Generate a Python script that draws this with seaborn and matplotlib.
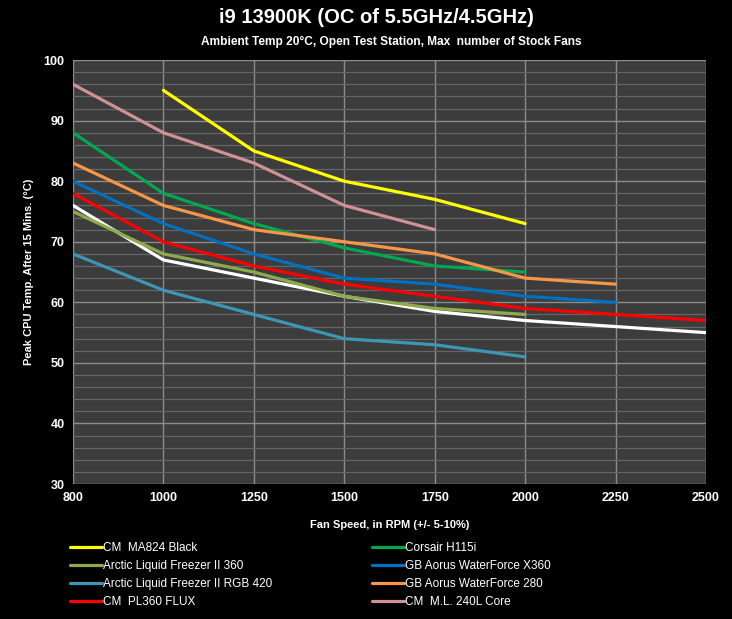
import matplotlib
matplotlib.use("Agg")
import matplotlib.pyplot as plt
import seaborn as sns
import pandas as pd
from matplotlib.ticker import MultipleLocator

# Fan speed categories (evenly spaced on the chart)
rpm_levels = [800, 1000, 1250, 1500, 1750, 2000, 2250, 2500]

# Peak CPU temps per cooler (None = not tested)
ma824_black = [None, 95, 85, 80, 77, 73, None, None]
alf2_360 = [75, 68, 65, 61, 59, 58, None, None]
alf2_rgb_420 = [68, 62, 58, 54, 53, 51, None, None]
pl360_flux = [78, 70, 66, 63, 61, 59, 58, 57]
corsair_h115i = [88, 78, 73, 69, 66, 65, None, None]
aorus_x360 = [80, 73, 68, 64, 63, 61, 60, None]
aorus_280 = [83, 76, 72, 70, 68, 64, 63, None]
ml240l_core = [96, 88, 83, 76, 72, None, None, None]
unlabeled_white = [76, 67, 64, 61, 58.5, 57, 56, 55]

series = [
    ("CM  MA824 Black", ma824_black, "#FFFF00"),
    ("Arctic Liquid Freezer II 360", alf2_360, "#8FAA4A"),
    ("Arctic Liquid Freezer II RGB 420", alf2_rgb_420, "#3B97B5"),
    ("CM  PL360 FLUX", pl360_flux, "#FF0000"),
    ("Corsair H115i", corsair_h115i, "#00A850"),
    ("GB Aorus WaterForce X360", aorus_x360, "#0070C0"),
    ("GB Aorus WaterForce 280", aorus_280, "#F79646"),
    ("CM  M.L. 240L Core", ml240l_core, "#D09292"),
]

sns.set_style("dark")
plt.rcParams['font.family'] = ['Liberation Sans', 'DejaVu Sans']

fig = plt.figure(figsize=(7.32, 6.19), dpi=100, facecolor="black")
ax = fig.add_axes([0.0997, 0.218, 0.8648, 0.685])
ax.set_facecolor("#3C3C3C")

# Unlabeled white series drawn first
white_df = pd.DataFrame({"x": range(len(rpm_levels)), "temp": unlabeled_white}).dropna()
sns.lineplot(data=white_df, x="x", y="temp", color="white", linewidth=2.3, ax=ax, legend=False)

for name, vals, color in series:
    df = pd.DataFrame({"x": range(len(rpm_levels)), "temp": vals}).dropna()
    sns.lineplot(data=df, x="x", y="temp", color=color, linewidth=2.3, ax=ax, label=name)

ax.set_xlim(0, len(rpm_levels) - 1)
ax.set_ylim(30, 100)
ax.set_xticks(range(len(rpm_levels)))
ax.set_xticklabels([str(r) for r in rpm_levels])
ax.yaxis.set_major_locator(MultipleLocator(10))
ax.yaxis.set_minor_locator(MultipleLocator(2))

ax.grid(which="major", axis="both", color="#8C8C8C", linewidth=1.0)
ax.grid(which="minor", axis="y", color="#666666", linewidth=0.9)
ax.set_axisbelow(True)
for spine in ax.spines.values():
    spine.set_visible(False)

ax.tick_params(axis="both", which="both", length=0, colors="white", labelsize=9, pad=6)
for lbl in ax.get_xticklabels() + ax.get_yticklabels():
    lbl.set_fontweight("bold")

ax.set_xlabel("Fan Speed, in RPM (+/- 5-10%)", color="white", fontsize=8, fontweight="bold", labelpad=11)
ax.set_ylabel("Peak CPU Temp. After 15 Mins. (°C)", color="white", fontsize=8, fontweight="bold", labelpad=7)

fig.text(0.514, 0.972, "i9 13900K (OC of 5.5GHz/4.5GHz)", color="white", fontsize=14.5,
         fontweight="bold", ha="center", va="center")
fig.text(0.534, 0.932, "Ambient Temp 20°C, Open Test Station, Max  number of Stock Fans", color="white",
         fontsize=8.6, fontweight="bold", ha="center", va="center")

leg = ax.legend(loc="upper left", bbox_to_anchor=(-0.021, -0.112), ncol=2, frameon=False,
                fontsize=8.5, handlelength=2.7, handletextpad=0.1, columnspacing=8.4,
                labelspacing=0.5)
for text in leg.get_texts():
    text.set_color("white")

fig.savefig("out.png", dpi=100, facecolor="black")
